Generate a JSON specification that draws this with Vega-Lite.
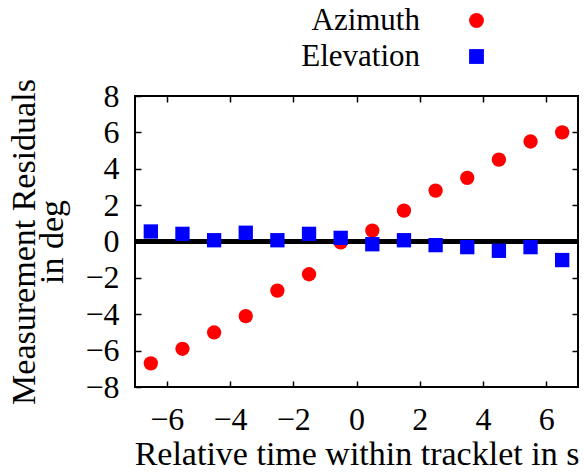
{
  "$schema": "https://vega.github.io/schema/vega-lite/v6.json",
  "width": 443,
  "height": 291,
  "autosize": "none",
  "padding": {"left": 135, "top": 96, "right": 6, "bottom": 88},
  "background": "white",
  "config": {
    "font": "Liberation Serif",
    "view": {"stroke": "black", "strokeWidth": 2},
    "axis": {
      "labelFont": "Liberation Serif",
      "titleFont": "Liberation Serif",
      "labelFontSize": 32,
      "titleFontSize": 34,
      "labelColor": "black",
      "titleColor": "black",
      "titleFontWeight": "normal",
      "labelOverlap": false,
      "domain": false,
      "grid": true,
      "gridColor": "#333",
      "gridDash": [2, 4],
      "gridWidth": 1,
      "ticks": true,
      "tickColor": "black",
      "tickSize": -6,
      "tickWidth": 1.5
    },
    "legend": {
      "labelFont": "Liberation Serif",
      "labelFontSize": 31,
      "labelColor": "black"
    }
  },
  "data": {
    "values": [
      {"t": -6.5, "series": "Azimuth", "v": -6.7},
      {"t": -5.5, "series": "Azimuth", "v": -5.9},
      {"t": -4.5, "series": "Azimuth", "v": -5.0},
      {"t": -3.5, "series": "Azimuth", "v": -4.1},
      {"t": -2.5, "series": "Azimuth", "v": -2.7},
      {"t": -1.5, "series": "Azimuth", "v": -1.8},
      {"t": -0.5, "series": "Azimuth", "v": -0.05},
      {"t": 0.5, "series": "Azimuth", "v": 0.6},
      {"t": 1.5, "series": "Azimuth", "v": 1.7},
      {"t": 2.5, "series": "Azimuth", "v": 2.8},
      {"t": 3.5, "series": "Azimuth", "v": 3.5},
      {"t": 4.5, "series": "Azimuth", "v": 4.5},
      {"t": 5.5, "series": "Azimuth", "v": 5.5},
      {"t": 6.5, "series": "Azimuth", "v": 6.0},
      {"t": -6.5, "series": "Elevation", "v": 0.55},
      {"t": -5.5, "series": "Elevation", "v": 0.42},
      {"t": -4.5, "series": "Elevation", "v": 0.07},
      {"t": -3.5, "series": "Elevation", "v": 0.48},
      {"t": -2.5, "series": "Elevation", "v": 0.07},
      {"t": -1.5, "series": "Elevation", "v": 0.42},
      {"t": -0.5, "series": "Elevation", "v": 0.2},
      {"t": 0.5, "series": "Elevation", "v": -0.15},
      {"t": 1.5, "series": "Elevation", "v": 0.07},
      {"t": 2.5, "series": "Elevation", "v": -0.2},
      {"t": 3.5, "series": "Elevation", "v": -0.31},
      {"t": 4.5, "series": "Elevation", "v": -0.51},
      {"t": 5.5, "series": "Elevation", "v": -0.31},
      {"t": 6.5, "series": "Elevation", "v": -1.02}
    ]
  },
  "resolve": {"axis": {"x": "independent", "y": "independent"}},
  "layer": [
    {
      "mark": {"type": "rule", "color": "black", "strokeWidth": 3.5},
      "encoding": {
        "x": {"datum": -7, "type": "quantitative", "axis": {"orient": "top", "values": [-6, -4, -2, 0, 2, 4, 6], "labels": false, "grid": false, "title": null}},
        "x2": {"datum": 7},
        "y": {"datum": 0, "type": "quantitative", "axis": {"orient": "right", "values": [-6, -4, -2, 0, 2, 4, 6], "labels": false, "grid": false, "title": null}}
      }
    },
    {
      "mark": {"type": "point", "filled": true, "opacity": 1, "size": 205},
      "encoding": {
        "x": {
          "field": "t", "type": "quantitative",
          "scale": {"domain": [-7, 7], "nice": false, "zero": false},
          "axis": {"orient": "bottom", "values": [-6, -4, -2, 0, 2, 4, 6], "title": "Relative time within tracklet in s", "labelPadding": 23, "titlePadding": 2}
        },
        "y": {
          "field": "v", "type": "quantitative",
          "scale": {"domain": [-8, 8], "nice": false},
          "axis": {"orient": "left", "values": [-8, -6, -4, -2, 0, 2, 4, 6, 8], "title": ["Measurement Residuals", "in deg"], "titleLineHeight": 28, "labelPadding": 22, "titlePadding": 15}
        },
        "color": {
          "field": "series", "type": "nominal",
          "scale": {"domain": ["Azimuth", "Elevation"], "range": ["#ff0000", "#0000ff"]},
          "legend": {
            "title": null, "orient": "none", "legendX": 326, "legendY": -91,
            "labelAlign": "right", "labelOffset": -72, "rowPadding": 4, "symbolSize": 220, "symbolStrokeWidth": 0
          }
        },
        "shape": {
          "field": "series", "type": "nominal",
          "scale": {"domain": ["Azimuth", "Elevation"], "range": ["circle", "square"]}
        }
      }
    }
  ]
}
